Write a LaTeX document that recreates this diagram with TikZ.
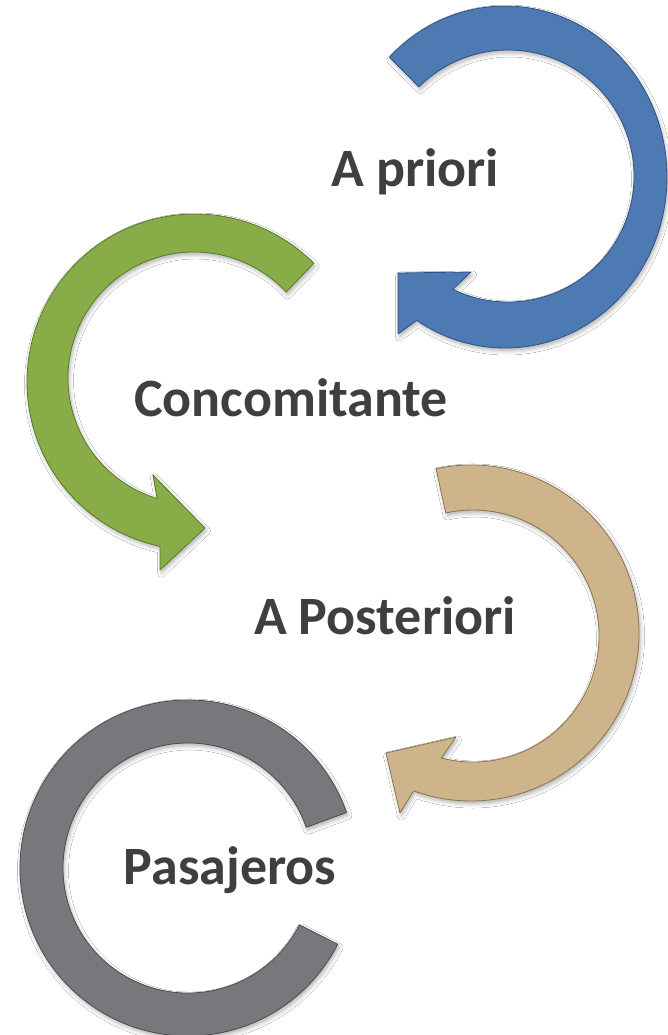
\documentclass[tikz,border=0pt]{standalone}
\usepackage{fontspec}
\setmainfont{Carlito}
\usetikzlibrary{shadows.blur}
\definecolor{blueF}{HTML}{4D7AB3}
\definecolor{blueD}{HTML}{2E5283}
\definecolor{greenF}{HTML}{88AC47}
\definecolor{greenD}{HTML}{587A24}
\definecolor{tanF}{HTML}{CDB48A}
\definecolor{tanD}{HTML}{8A7451}
\definecolor{grayF}{HTML}{77787B}
\definecolor{grayD}{HTML}{4A4B4D}
\definecolor{txtgray}{HTML}{3F3F3F}
\begin{document}
\begin{tikzpicture}[x=1pt,y=1pt,
  ringband/.style={line width=0.8pt, line join=round,
    blur shadow={shadow xshift=1.5pt, shadow yshift=-3pt, shadow opacity=30, shadow blur radius=4pt}},
  lbl/.style={font=\bfseries\fontsize{54}{60}\selectfont, text=txtgray, inner sep=0pt, anchor=base}]
\useasboundingbox[fill=white] (0,0) rectangle (668,-1035);
% blue
\path[ringband, fill=blueF, draw=blueD]
  ([shift={(505,-177)}]135.5:162 and 171) arc[start angle=135.5, end angle=-123, x radius=162, y radius=171]
  -- (398,-334) -- (398,-273) -- (471,-272)
  -- ([shift={(508,-176)}]-116:126) arc[start angle=-116, end angle=135, radius=126] -- cycle;
% green
\path[ringband, fill=greenF, draw=greenD]
  ([shift={(195,-382)}]45:168) arc[start angle=45, end angle=258, radius=168]
  -- (160,-570) -- (205,-528) -- (153,-475)
  -- ([shift={(194,-378)}]253:126) arc[start angle=253, end angle=43, radius=126] -- cycle;
% tan
\path[ringband, fill=tanF, draw=tanD]
  ([shift={(471,-633)}]102:168) arc[start angle=102, end angle=-110, radius=168]
  -- (400,-813) -- (386,-753) -- (456,-737)
  -- ([shift={(473,-636)}]-104.5:126) arc[start angle=-104.5, end angle=102.5, radius=126] -- cycle;
% gray
\path[ringband, fill=grayF, draw=grayD]
  ([shift={(188,-868)}]19.3:168) arc[start angle=19.3, end angle=333, radius=168]
  -- ([shift={(188,-868)}]333:125) arc[start angle=333, end angle=19, radius=125] -- cycle;
% labels
\node[lbl] (t1) at (415,-186) {A priori};
\node[lbl] (t2) at (291,-416) {Concomitante};
\node[lbl] (t3) at (385,-634) {A Posteriori};
\node[lbl] (t4) at (230,-884) {Pasajeros};
\end{tikzpicture}
\end{document}
